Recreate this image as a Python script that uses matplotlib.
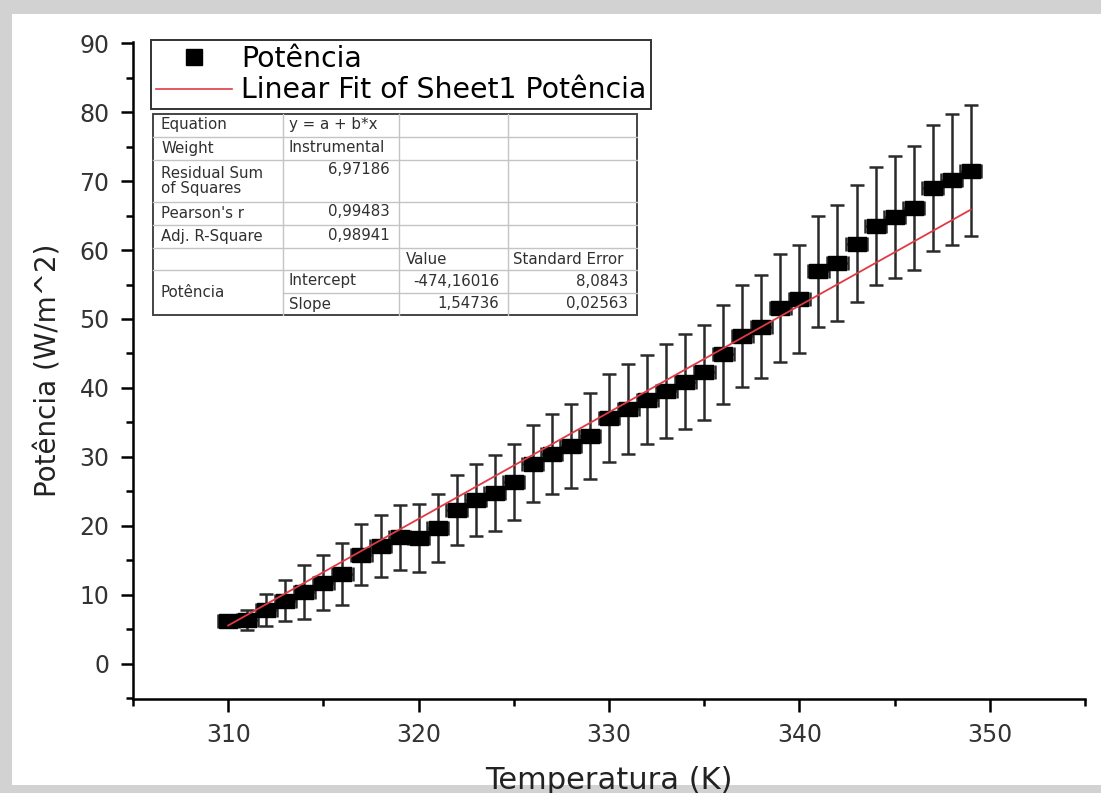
import matplotlib.pyplot as plt
from matplotlib.lines import Line2D
from matplotlib.patches import Rectangle
from matplotlib.ticker import MultipleLocator

# dados
temperatura = list(range(310, 350))
potencia = [6.2, 6.3, 7.8, 9.1, 10.4, 11.7, 13.0, 15.8, 17.1, 18.3,
            18.2, 19.7, 22.3, 23.7, 24.8, 26.4, 29.0, 30.4, 31.5, 33.0,
            35.6, 36.9, 38.3, 39.6, 40.9, 42.3, 44.9, 47.5, 48.9, 51.6,
            52.9, 56.9, 58.1, 60.9, 63.5, 64.8, 66.1, 69.0, 70.2, 71.5]
erro_y = [0.9, 1.5, 2.3, 3.0, 3.9, 4.0, 4.45, 4.45, 4.5, 4.7,
          4.9, 4.9, 5.1, 5.2, 5.5, 5.5, 5.6, 5.8, 6.1, 6.2,
          6.4, 6.5, 6.5, 6.8, 6.9, 6.9, 7.2, 7.4, 7.5, 7.8,
          7.8, 8.1, 8.4, 8.5, 8.6, 8.9, 9.0, 9.2, 9.5, 9.5]
erro_x = 0.55

# ajuste linear (Origin)
intercept = -474.16016
slope = 1.54736

tabela = [
    ("Equation", "y = a + b*x", "", ""),
    ("Weight", "Instrumental", "", ""),
    ("Residual Sum\nof Squares", "6,97186", "", ""),
    ("Pearson's r", "0,99483", "", ""),
    ("Adj. R-Square", "0,98941", "", ""),
    ("", "", "Value", "Standard Error"),
    ("Potência", "Intercept", "-474,16016", "8,0843"),
    ("", "Slope", "1,54736", "0,02563"),
]

W, H = 1101, 793
fig = plt.figure(figsize=(W / 100, H / 100), dpi=100)
fig.patch.set_facecolor('white')

# bordas cinzas da foto da tela
for r in [(0, 0, 12 / W, 1), (0, 1 - 14 / H, 1, 14 / H), (0, 0, 1, 8 / H)]:
    fig.add_artist(Rectangle(r[:2], r[2], r[3], transform=fig.transFigure,
                             facecolor='#d2d2d2', edgecolor='none', zorder=-5))

ax = fig.add_axes([133 / W, 1 - 699 / H, (1085 - 133) / W, (699 - 42) / H])

# quadrado um pouco mais largo que alto, como no Origin
retangulo = [(-1, -0.8), (1, -0.8), (1, 0.8), (-1, 0.8), (-1, -0.8)]

vermelho = '#e23a44'
ax.errorbar(temperatura, potencia, yerr=erro_y, xerr=erro_x, fmt='none',
            ecolor='#2a2a2a', elinewidth=1.8, capsize=5, capthick=1.8,
            zorder=3)
ax.plot(temperatura, potencia, ls='none', marker=retangulo, ms=13,
        color='black', zorder=3.5)

x_fit = [temperatura[0], temperatura[-1]]
y_fit = [intercept + slope * t for t in x_fit]
ax.plot(x_fit, y_fit, color=vermelho, lw=1.3, zorder=4)

ax.set_xlim(305, 355)
ax.set_ylim(-5.15, 90.2)
ax.xaxis.set_major_locator(MultipleLocator(10))
ax.xaxis.set_minor_locator(MultipleLocator(5))
ax.yaxis.set_major_locator(MultipleLocator(10))
ax.yaxis.set_minor_locator(MultipleLocator(5))
ax.spines['top'].set_visible(False)
ax.spines['right'].set_visible(False)
for s in ['left', 'bottom']:
    ax.spines[s].set_linewidth(1.8)
ax.tick_params(which='major', direction='out', length=9, width=1.8,
               labelsize=17, labelcolor='#333333', pad=8)
ax.tick_params(which='minor', direction='out', length=5, width=1.8)

ax.set_xlabel('Temperatura (K)', fontsize=22, color='#222222', labelpad=14)
ax.set_ylabel('Potência (W/m^2)', fontsize=20, color='#222222', labelpad=12)

handles = [Line2D([], [], marker='s', color='black', ls='none', ms=11),
           Line2D([], [], color=vermelho, lw=1.2)]
leg = ax.legend(handles, ['Potência', 'Linear Fit of Sheet1 Potência'],
                loc='upper left', bbox_to_anchor=(151 / W, 1 - 40 / H),
                bbox_transform=fig.transFigure, borderaxespad=0, fontsize=20.4,
                handlelength=2.7, handletextpad=0.3, labelspacing=0.13,
                borderpad=0.17, fancybox=False, edgecolor='#333333',
                framealpha=1)
leg.get_frame().set_linewidth(1.4)

# tabela de resultados do ajuste, em pixels
ov = fig.add_axes([0, 0, 1, 1], zorder=10)
ov.set_xlim(0, W)
ov.set_ylim(H, 0)
ov.axis('off')

col_x = [153, 283, 399, 508, 637]
row_y = [114, 137, 160, 202, 225, 248, 270, 293, 315]
cinza = '#c4c4c4'
txt = dict(fontsize=10.8, color='#303030', va='center')

ov.add_patch(Rectangle((col_x[0], row_y[0]), col_x[-1] - col_x[0],
                       row_y[-1] - row_y[0], facecolor='white',
                       edgecolor='none'))
for y in row_y[1:-1]:
    x0 = col_x[1] if y == row_y[7] else col_x[0]
    ov.plot([x0, col_x[-1]], [y, y], color=cinza, lw=1)
for x in col_x[1:-1]:
    ov.plot([x, x], [row_y[0], row_y[-1]], color=cinza, lw=1)
ov.add_patch(Rectangle((col_x[0], row_y[0]), col_x[-1] - col_x[0],
                       row_y[-1] - row_y[0], facecolor='none',
                       edgecolor='#444444', lw=1.4))

for i, (c0, c1, c2, c3) in enumerate(tabela):
    yt = row_y[i] + 11
    if i == 2:
        ov.text(col_x[0] + 8, 181, c0, linespacing=0.95, ha='left', **txt)
    elif i == 6:
        ov.text(col_x[0] + 8, 292.5, c0, ha='left', **txt)
    elif c0:
        ov.text(col_x[0] + 8, yt, c0, ha='left', **txt)
    if c1:
        if c1[0].isdigit():
            ov.text(col_x[2] - 9, yt - 1, c1, ha='right', **txt)
        else:
            ov.text(col_x[1] + 6, yt, c1, ha='left', **txt)
    if c2:
        if i == 5:
            ov.text(col_x[2] + 7, yt, c2, ha='left', **txt)
        else:
            ov.text(col_x[3] - 9, yt, c2, ha='right', **txt)
    if c3:
        if i == 5:
            ov.text(col_x[3] + 5, yt, c3, ha='left', **txt)
        else:
            ov.text(col_x[4] - 9, yt, c3, ha='right', **txt)

fig.savefig('out.png', dpi=100)
